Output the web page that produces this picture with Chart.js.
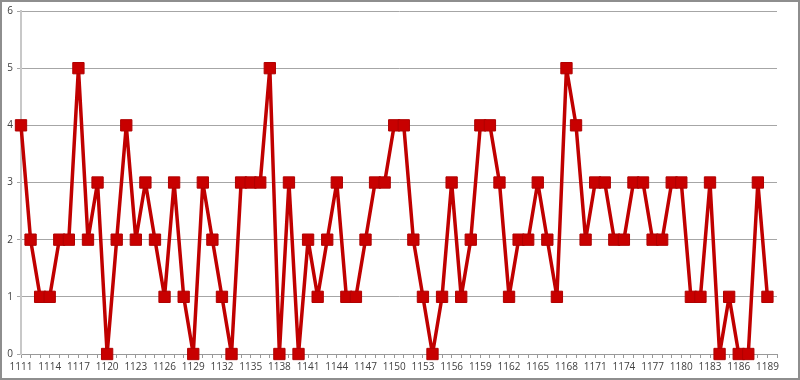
<!DOCTYPE html>
<html>
<head>
<meta charset="utf-8">
<script src="https://cdn.jsdelivr.net/npm/chart.js@4/dist/chart.umd.min.js"></script>
<style>
html,body{margin:0;padding:0;background:#fff;}
#wrap{width:800px;height:380px;position:relative;}
</style>
</head>
<body>
<div id="wrap"><canvas id="c" width="800" height="380"></canvas></div>
<script>
const categories = [];
for (let y = 1111; y <= 1190; y++) categories.push(String(y));

const values = [
  4,2,1,1,2,2,5,2,3,0,
  2,4,2,3,2,1,3,1,0,3,
  2,1,0,3,3,3,5,0,3,0,
  2,1,2,3,1,1,2,3,3,4,
  4,2,1,0,1,3,1,2,4,4,
  3,1,2,2,3,2,1,5,4,2,
  3,3,2,2,3,3,2,2,3,3,
  1,1,3,0,1,0,0,3,1,null
];

const yTicks = [0,1,2,3,4,5,6];

const borderPlugin = {
  id: 'outerBorder',
  afterDraw(chart) {
    const ctx = chart.ctx;
    ctx.save();
    ctx.strokeStyle = '#8e8e8e';
    ctx.lineWidth = 2;
    ctx.strokeRect(1, 1, 798, 378);
    ctx.restore();
  }
};
const bgPlugin = {
  id: 'bg',
  beforeDraw(chart) {
    const ctx = chart.ctx;
    ctx.save();
    ctx.fillStyle = '#ffffff';
    ctx.fillRect(0, 0, chart.width, chart.height);
    ctx.restore();
  }
};

new Chart(document.getElementById('c'), {
  type: 'line',
  data: {
    labels: categories,
    datasets: [{
      data: values,
      borderColor: '#C00000',
      backgroundColor: '#C00000',
      borderWidth: 3.5,
      borderJoinStyle: 'round',
      borderCapStyle: 'round',
      pointStyle: 'rect',
      pointRadius: 8,
      pointBorderColor: '#B00000',
      pointBackgroundColor: '#C80000',
      pointBorderWidth: 1,
      tension: 0,
      clip: false
    }]
  },
  plugins: [bgPlugin, borderPlugin],
  options: {
    responsive: false,
    animation: false,
    layout: { autoPadding: false, padding: { top: 11, right: 23, bottom: 0, left: 0 } },
    plugins: { legend: { display: false }, tooltip: { enabled: false } },
    scales: {
      x: {
        type: 'category',
        offset: false,
        afterFit(s) { s.height = 26; },
        grid: { display: true, drawOnChartArea: false, drawTicks: true, tickLength: 4, color: '#999999' },
        border: { display: true, color: '#999999', width: 1 },
        ticks: {
          autoSkip: false, maxRotation: 0, minRotation: 0, padding: 3,
          color: '#404040',
          font: { family: 'Open Sans', size: 10 },
          callback(v, i) { return i % 3 === 0 ? categories[i] : ''; }
        }
      },
      y: {
        min: 0, max: 6,
        afterFit(s) { s.width = 21; },
        afterBuildTicks(s) { s.ticks = yTicks.map(v => ({ value: v })); },
        grid: { color: '#a6a6a6', lineWidth: 1, tickLength: 4, drawTicks: true },
        border: { display: true, color: '#c8c8c8', width: 2 },
        ticks: {
          stepSize: 1, padding: 4, color: '#404040',
          font: { family: 'Open Sans', size: 10 }
        }
      }
    }
  }
});
</script>
</body>
</html>
